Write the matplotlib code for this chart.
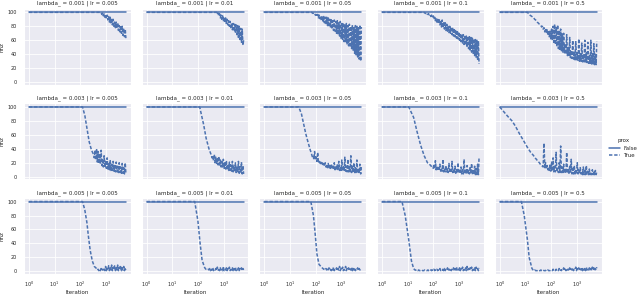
import matplotlib
matplotlib.use("Agg")
import matplotlib.pyplot as plt
import seaborn as sns
from matplotlib.lines import Line2D

lambdas = [0.001, 0.003, 0.005]
lrs = [0.005, 0.01, 0.05, 0.1, 0.5]

# logged iterations of the noisy tail (shared by all runs)
grid = [10, 11, 12, 13, 14, 15, 16, 17, 18, 19,
        20, 22, 23, 25, 27, 29, 31, 33, 35, 38,
        40, 43, 46, 49, 53, 57, 61, 65, 70, 75,
        80, 85, 91, 98, 105, 112, 120, 128, 137, 147,
        157, 168, 180, 193, 206, 220, 236, 252, 270, 289,
        309, 331, 354, 379, 405, 434, 464, 497, 531, 569,
        608, 651, 696, 745, 797, 853, 913, 977, 1045, 1118,
        1196, 1280, 1370, 1466, 1568, 1678, 1795, 1921, 2055, 2199,
        2353, 2518, 2694, 2883, 3084, 3300, 3531, 3778, 4043, 4326,
        4628, 4952, 5299, 5670, 6000]

# prox=False: nnz never moves
false_it = [1, 6000]
false_nnz = [100, 100]

# prox=True: head points, then tail values on the last len(tail) grid iterations
l001_lr0005_it = [1, 608]
l001_lr0005_nnz = [100, 100]
l001_lr0005_tail = [100, 97, 99, 95, 98, 93, 97, 91, 96,
                    89, 94, 86, 93, 85, 91, 82, 90, 80, 86,
                    78, 86, 77, 85, 74, 81, 72, 81, 70, 80,
                    67, 77, 65, 76, 63]

l001_lr001_it = [1, 497]
l001_lr001_nnz = [100, 100]
l001_lr001_tail = [100, 97,
                   99, 95, 98, 92, 96, 90, 95, 88, 93, 86,
                   92, 84, 90, 82, 88, 80, 87, 77, 85, 75,
                   84, 73, 83, 70, 82, 68, 81, 64, 80, 61,
                   77, 57, 76, 53, 60]

l001_lr005_it = [1, 65]
l001_lr005_nnz = [100, 100]
l001_lr005_tail = [100, 99,
                   99, 97, 98, 96, 97, 94, 97, 92, 96, 91,
                   95, 88, 95, 86, 94, 85, 93, 83, 93, 81,
                   92, 79, 90, 78, 91, 76, 88, 74, 89, 73,
                   87, 70, 88, 68, 85, 66, 87, 63, 84, 61,
                   85, 58, 82, 57, 84, 54, 81, 52, 83, 50,
                   80, 48, 82, 45, 78, 41, 81, 39, 80, 36,
                   78, 33, 82, 30, 79]

l001_lr01_it = [1, 40]
l001_lr01_nnz = [100, 100]
l001_lr01_tail = [100, 99, 99, 98, 99, 97, 98, 96, 97,
                  94, 96, 93, 95, 90, 93, 88, 92, 86, 90,
                  84, 91, 82, 88, 79, 89, 78, 86, 76, 85,
                  74, 83, 73, 81, 71, 80, 70, 79, 68, 78,
                  66, 77, 65, 75, 63, 74, 62, 72, 60, 70,
                  58, 69, 56, 68, 54, 67, 53, 66, 50, 66,
                  48, 65, 46, 64, 43, 63, 41, 62, 38, 61,
                  35, 60, 31, 59, 26]

l001_lr05_it = [1, 12, 15, 18]
l001_lr05_nnz = [100, 100, 96, 94]
l001_lr05_tail = [93, 91, 90, 89, 88, 86, 85, 84, 83, 82,
                  81, 79, 80, 76, 78, 72, 77, 70, 76, 67,
                  74, 65, 73, 62, 76, 60, 80, 57, 83, 54,
                  78, 51, 82, 48, 74, 47, 76, 45, 70, 43,
                  70, 42, 55, 40, 68, 38, 50, 37, 64, 35,
                  45, 34, 60, 33, 44, 32, 58, 31, 42, 31,
                  62, 30, 41, 30, 56, 29, 40, 29, 60, 28,
                  42, 28, 57, 27, 39, 27, 60, 26, 41, 26,
                  55, 25, 40, 25, 58]

l003_lr0005_it = [1, 123, 151, 182, 224, 275]
l003_lr0005_nnz = [100, 100, 88, 70, 50, 38]
l003_lr0005_tail = [32, 27, 38, 24, 40, 21, 36, 19, 33,
                    18, 38, 16, 26, 14, 30, 13, 22, 12, 27,
                    11, 20, 10, 24, 9, 18, 9, 22, 8, 16,
                    7, 21, 7, 15, 6, 20, 6, 14, 5, 19,
                    5, 13, 4, 20, 4]

l003_lr001_it = [1, 117, 166, 209, 269]
l003_lr001_nnz = [100, 100, 75, 55, 40]
l003_lr001_tail = [31, 27, 30, 23, 32, 20, 28, 18, 26,
                   17, 29, 15, 24, 14, 22, 13, 25, 12, 20,
                   11, 23, 10, 18, 9, 21, 9, 17, 8, 22,
                   7, 16, 7, 20, 6, 15, 6, 22, 5, 14,
                   5, 21, 4, 16, 4]

l003_lr005_it = [1, 22, 28, 33, 41, 50, 62]
l003_lr005_nnz = [100, 100, 90, 78, 62, 50, 38]
l003_lr005_tail = [32, 28,
                   30, 25, 36, 24, 28, 22, 35, 20, 22, 18,
                   21, 17, 20, 16, 19, 15, 20, 14, 17, 13,
                   19, 12, 16, 12, 18, 11, 15, 11, 20, 10,
                   14, 10, 17, 9, 22, 9, 14, 9, 24, 8,
                   16, 8, 28, 8, 15, 7, 25, 7, 14, 7,
                   30, 6, 15, 6, 20, 6, 13, 5, 24, 5,
                   12, 5, 18, 4, 14]

l003_lr01_it = [1, 11, 17, 23, 32, 44, 59]
l003_lr01_nnz = [100, 100, 85, 65, 45, 30, 20]
l003_lr01_tail = [16, 14, 13, 12, 18, 11, 23, 10, 15, 9,
                  13, 9, 18, 8, 12, 8, 25, 7, 12, 7,
                  16, 7, 11, 6, 19, 6, 10, 6, 22, 6,
                  11, 5, 15, 5, 10, 5, 20, 5, 9, 5,
                  14, 4, 10, 4, 25, 4, 11, 4, 16, 4,
                  9, 4, 13, 4, 19, 3, 10, 3, 15, 3,
                  12, 3, 18, 3, 27]

l003_lr05_it = [1, 2, 3, 4, 6, 9, 12, 16]
l003_lr05_nnz = [100, 87, 80, 73, 61, 50, 42, 35]
l003_lr05_tail = [31, 29, 28, 26, 25, 23, 22, 21, 20, 18,
                  17, 16, 15, 14, 48, 13, 20, 11, 16, 10,
                  14, 9, 18, 8, 22, 8, 27, 7, 15, 7,
                  35, 7, 12, 6, 20, 6, 44, 6, 14, 6,
                  18, 5, 12, 5, 35, 5, 10, 5, 15, 5,
                  25, 4, 11, 4, 16, 4, 9, 4, 20, 4,
                  10, 4, 13, 4, 8, 3, 14, 3, 9, 3,
                  16, 3, 8, 3, 11, 3, 7, 3, 10, 3,
                  8, 3, 9, 3, 7]

l005_lr0005_it = [1, 123, 151, 182, 209, 245, 295, 355]
l005_lr0005_nnz = [100, 100, 88, 70, 50, 30, 15, 7]
l005_lr0005_tail = [4, 2, 3, 1, 3,
                    1, 4, 1, 3, 2, 5, 1, 7, 1, 4,
                    2, 8, 1, 5, 2, 9, 1, 6, 2, 8,
                    1, 5, 2, 9, 1, 6, 2, 8, 1, 5,
                    2, 7, 1, 5, 2]

l005_lr001_it = [1, 75, 100, 120, 145, 180]
l005_lr001_nnz = [100, 100, 72, 42, 16, 6]
l005_lr001_tail = [4, 3, 3, 2, 3, 2, 4,
                   1, 3, 2, 5, 1, 3, 2, 4, 1, 6,
                   2, 3, 1, 5, 2, 3, 1, 7, 1, 3,
                   2, 5, 1, 4, 2, 6, 1, 3, 2, 5,
                   1, 4, 2, 6, 1, 3, 2, 5, 1, 4,
                   2, 5, 1, 4, 2]

l005_lr005_it = [1, 65, 82, 98, 112, 135, 180]
l005_lr005_nnz = [100, 100, 80, 50, 25, 10, 5]
l005_lr005_tail = [4, 3, 3, 2, 4, 2, 3,
                   1, 5, 2, 3, 1, 4, 2, 6, 1, 3,
                   2, 5, 1, 4, 2, 7, 1, 4, 2, 6,
                   1, 3, 2, 7, 1, 4, 2, 5, 1, 3,
                   2, 6, 1, 4, 2, 5, 1, 3, 2, 5,
                   1, 4, 2, 3, 2]

l005_lr01_it = [1, 6, 8, 11, 14, 17]
l005_lr01_nnz = [100, 100, 80, 45, 15, 4]
l005_lr01_tail = [3, 2,
                  2, 1, 2, 1, 2, 1, 1, 1, 2, 1,
                  1, 1, 2, 1, 1, 1, 2, 1, 2, 1,
                  2, 1, 2, 1, 3, 1, 2, 1, 3, 1,
                  2, 1, 4, 1, 2, 1, 3, 1, 4, 1,
                  2, 1, 5, 1, 3, 2, 4, 1, 3, 2,
                  5, 1, 4, 2, 6, 1, 3, 2, 5, 1,
                  4, 2, 6, 1, 3, 2, 5, 1, 7, 2,
                  4, 1, 5, 2, 6, 1, 3, 2, 5, 1,
                  6, 2, 4, 1, 5]

l005_lr05_it = [1, 7, 9, 12, 14, 18]
l005_lr05_nnz = [100, 100, 80, 45, 20, 4]
l005_lr05_tail = [3,
                  2, 1, 2, 1, 1, 1, 2, 1, 1, 1,
                  2, 1, 1, 2, 1, 1, 1, 2, 1, 2,
                  1, 1, 1, 2, 2, 1, 3, 1, 2, 1,
                  3, 1, 2, 1, 4, 1, 2, 1, 3, 2,
                  5, 1, 3, 1, 4, 2, 3, 1, 5, 1,
                  3, 2, 5, 1, 3, 2, 6, 1, 4, 2,
                  5, 1, 3, 2, 6, 1, 4, 2, 5, 1,
                  6, 2, 3, 1, 5, 2, 4, 1, 6, 2,
                  5, 1, 4, 2, 6]

runs = {
    (0.001, 0.005): (l001_lr0005_it, l001_lr0005_nnz, l001_lr0005_tail),
    (0.001, 0.01): (l001_lr001_it, l001_lr001_nnz, l001_lr001_tail),
    (0.001, 0.05): (l001_lr005_it, l001_lr005_nnz, l001_lr005_tail),
    (0.001, 0.1): (l001_lr01_it, l001_lr01_nnz, l001_lr01_tail),
    (0.001, 0.5): (l001_lr05_it, l001_lr05_nnz, l001_lr05_tail),
    (0.003, 0.005): (l003_lr0005_it, l003_lr0005_nnz, l003_lr0005_tail),
    (0.003, 0.01): (l003_lr001_it, l003_lr001_nnz, l003_lr001_tail),
    (0.003, 0.05): (l003_lr005_it, l003_lr005_nnz, l003_lr005_tail),
    (0.003, 0.1): (l003_lr01_it, l003_lr01_nnz, l003_lr01_tail),
    (0.003, 0.5): (l003_lr05_it, l003_lr05_nnz, l003_lr05_tail),
    (0.005, 0.005): (l005_lr0005_it, l005_lr0005_nnz, l005_lr0005_tail),
    (0.005, 0.01): (l005_lr001_it, l005_lr001_nnz, l005_lr001_tail),
    (0.005, 0.05): (l005_lr005_it, l005_lr005_nnz, l005_lr005_tail),
    (0.005, 0.1): (l005_lr01_it, l005_lr01_nnz, l005_lr01_tail),
    (0.005, 0.5): (l005_lr05_it, l005_lr05_nnz, l005_lr05_tail),
}

sns.set_style("darkgrid")
plt.rcParams.update({
    "xtick.labelsize": 3.5,
    "ytick.labelsize": 3.5,
    "xtick.major.pad": 0.8,
    "ytick.major.pad": 1.5,
    "grid.linewidth": 0.6,
})

blue = "#4c72b0"
lw = 1.1
dash = (2.2, 1.2)

fig, axes = plt.subplots(3, 5, figsize=(6.4, 2.96), dpi=100, sharex=True, sharey=True)
fig.subplots_adjust(left=0.0375, right=0.94, bottom=0.074, top=0.970,
                    wspace=0.103, hspace=0.245)

for r, lam in enumerate(lambdas):
    for c, lr in enumerate(lrs):
        ax = axes[r, c]
        head_it, head_nnz, tail = runs[(lam, lr)]
        it = head_it + grid[len(grid) - len(tail):]
        nnz = head_nnz + tail
        ax.plot(false_it, false_nnz, color=blue, lw=lw)
        ax.plot(it, nnz, color=blue, lw=lw, dashes=dash)
        ax.set_xscale("log")
        ax.set_title(f"lambda_ = {lam} | lr = {lr}", fontsize=4, pad=3)
        if c == 0:
            ax.set_ylabel("nnz", fontsize=4, labelpad=2)
        if r == 2:
            ax.set_xlabel("Iteration", fontsize=4, labelpad=0.8)

axes[0, 0].set_yticks([0, 20, 40, 60, 80, 100])

handles = [Line2D([], [], color=blue, lw=lw),
           Line2D([], [], color=blue, lw=lw, dashes=dash)]
leg = fig.legend(handles, ["False", "True"], title="prox", loc="center left",
                 bbox_to_anchor=(0.946, 0.5), frameon=False, fontsize=4,
                 title_fontsize=4, handlelength=2.0, handletextpad=0.5,
                 labelspacing=0.4, borderpad=0.2)

fig.savefig("out.png", dpi=100)
